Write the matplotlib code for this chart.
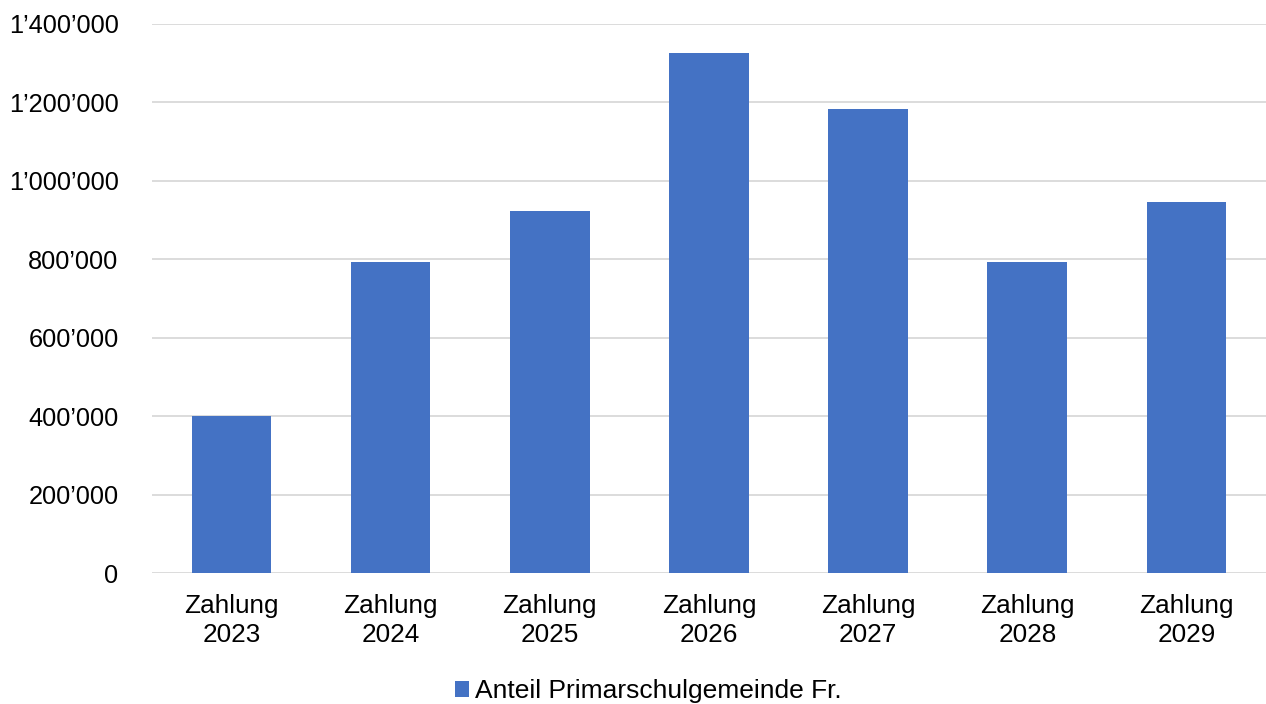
import matplotlib.pyplot as plt
from matplotlib.ticker import FuncFormatter

plt.rcParams['font.family'] = ['Liberation Sans', 'DejaVu Sans']

# data
categories = ['Zahlung\n2023', 'Zahlung\n2024', 'Zahlung\n2025', 'Zahlung\n2026',
              'Zahlung\n2027', 'Zahlung\n2028', 'Zahlung\n2029']
values = [400000, 793000, 923000, 1325000, 1182000, 793000, 946000]
series_name = 'Anteil Primarschulgemeinde Fr.'
yticks = [0, 200000, 400000, 600000, 800000, 1000000, 1200000, 1400000]


def swiss_fmt(v, pos):
    return f'{int(v):,}'.replace(',', '\u2019')


fig = plt.figure(figsize=(12.66, 7.04), dpi=100)
ax = fig.add_axes([0.12, 0.186, 0.88, 0.78])

ax.bar(range(len(values)), values, width=0.5, color='#4472C4', label=series_name, zorder=3)

ax.set_xlim(-0.5, len(values) - 0.5)
ax.set_ylim(0, 1400000)
ax.set_yticks(yticks)
ax.yaxis.set_major_formatter(FuncFormatter(swiss_fmt))
ax.set_xticks(range(len(values)))
ax.set_xticklabels(categories)

ax.grid(axis='y', color='#D9D9D9', linewidth=1.3, zorder=0)
for s in ['top', 'right', 'left', 'bottom']:
    ax.spines[s].set_visible(False)
ax.tick_params(axis='y', length=0, labelsize=18.3, colors='black', pad=24)
ax.tick_params(axis='x', length=0, labelsize=18.8, colors='black', pad=15)
for lbl in ax.get_xticklabels():
    lbl.set_linespacing(1.28)

# legend sits centred under the plot area, not the whole figure
fig.legend(loc='lower center', bbox_to_anchor=(0.512, -0.033), frameon=False,
           fontsize=19, handlelength=0.55, handleheight=0.55, handletextpad=0.2)

fig.savefig('out.png', dpi=100)
